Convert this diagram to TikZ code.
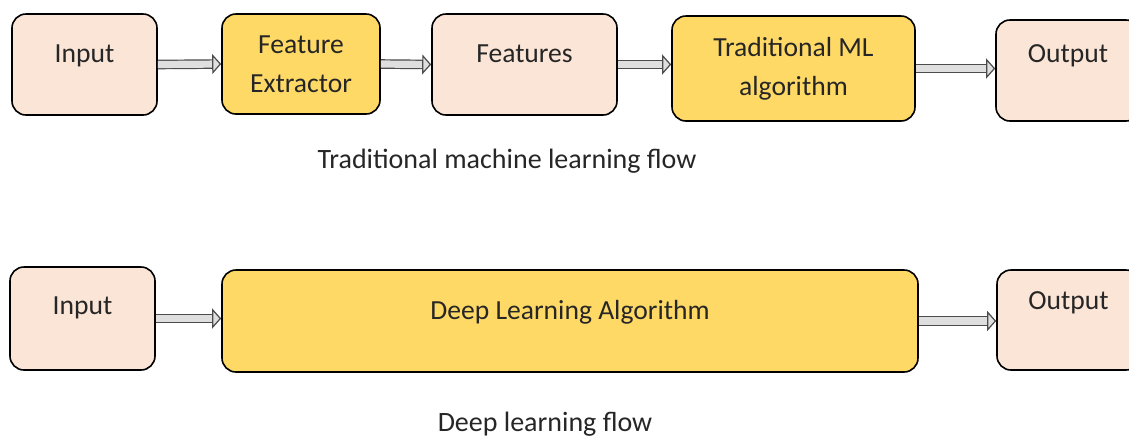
\documentclass[tikz,border=0pt]{standalone}
\usepackage{fontspec}
\setmainfont{Carlito}
\usepackage{xcolor}
\usetikzlibrary{arrows.meta,positioning,calc}

\definecolor{peach}{HTML}{FBE5D6}
\definecolor{gold}{HTML}{FFD966}

\begin{document}
\begin{tikzpicture}[x=0.5pt, y=-0.5pt,
        box/.style={rectangle, draw=black, line width=0.8pt, rounded corners=7pt, align=center, text=black!85, font=\fontsize{13.8}{19.5}\selectfont},
        inbox/.style={box, fill=peach},
        algbox/.style={box, fill=gold},
        lift/.style={text height=9.5pt, text depth=#1},
        pipe/.style={double=gray!25, double distance=3.6pt, line width=0.6pt, draw=black!70, -{Triangle[length=4.5pt, width=10pt, fill=gray!25]}},
        caption/.style={font=\fontsize{14}{16}\selectfont, text=black!85}]
        \useasboundingbox (0,0) rectangle (1129,441);

        % Traditional flow
        \node[inbox, minimum width=72.5pt, minimum height=50.5pt, lift=12pt] (in1) at (84.5,64.5) {Input};
        \node[algbox, minimum width=79pt, minimum height=50pt] (fe) at (301,64) {Feature\\Extractor};
        \node[inbox, minimum width=92.5pt, minimum height=50.5pt, lift=12pt] (feat) at (524.5,64.5) {Features};
        \node[algbox, minimum width=121.5pt, minimum height=52.5pt] (tml) at (793.5,68.5) {Traditional ML\\algorithm};
        \node[inbox, minimum width=72pt, minimum height=50.5pt, lift=18pt] (out1) at (1068,70.5) {Output};
        \node[caption] (cap1) at (507,161) {Traditional machine learning flow};

        % Deep learning flow
        \node[inbox, minimum width=72.5pt, minimum height=51.5pt, lift=14pt] (in2) at (82.5,318.5) {Input};
        \node[algbox, minimum width=348pt, minimum height=51pt, lift=11.5pt] (dl) at (570,321) {Deep Learning Algorithm};
        \node[inbox, minimum width=71.5pt, minimum height=50pt, lift=20.5pt] (out2) at (1068.5,320) {Output};
        \node[caption] (cap2) at (545,424) {Deep learning flow};

        % Connections
        \draw[pipe] (in1.east) -- (fe.west);
        \draw[pipe] (fe.east) -- (feat.west);
        \draw[pipe] (feat.east) -- (feat.east -| tml.west);
        \draw[pipe] (tml.east) -- (tml.east -| out1.west);
        \draw[pipe] (in2.east) -- (in2.east -| dl.west);
        \draw[pipe] (dl.east) -- (dl.east -| out2.west);
    \end{tikzpicture}
\end{document}
